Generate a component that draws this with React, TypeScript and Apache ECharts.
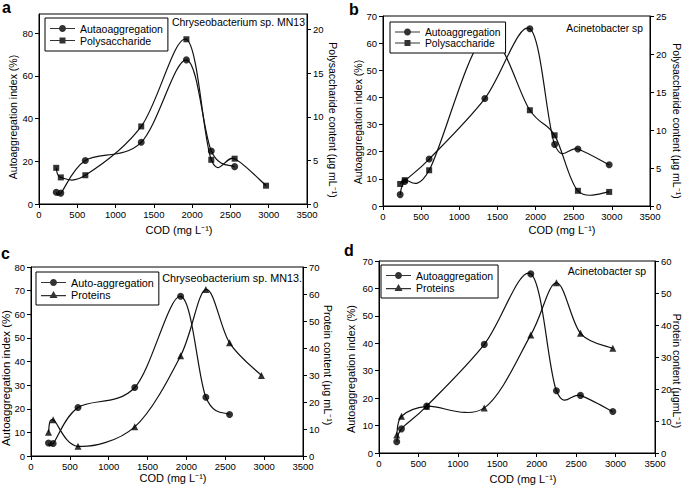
import React, { useEffect, useRef } from 'react';
import * as echarts from 'echarts';

// COD values (mg L-1) shared by all panels
const cod = [225, 285, 605, 1335, 1925, 2250, 2555, 2965];

// Panel a: Chryseobacterium sp. MN13
const aAuto = [5.5, 5.1, 20.4, 28.9, 67.5, 24.8, 17.5];
const aPoly = [4.15, 3.05, 3.3, 8.9, 18.9, 5.07, 5.2, 2.1];
// Panel b: Acinetobacter sp
const bAuto = [4.2, 9.0, 17.3, 39.6, 65.3, 22.7, 21.0, 15.2];
const bPoly = [2.9, 3.4, 4.7, 22.3, 12.6, 9.3, 2.0, 1.85];
// Panel c: Chryseobacterium sp. MN13.
const cAuto = [5.5, 5.3, 20.5, 29.0, 67.6, 24.9, 17.6];
const cProt = [8.8, 13.4, 3.6, 10.8, 37.1, 61.7, 41.9, 29.8];
// Panel d: Acinetobacter sp
const dAuto = [4.1, 8.8, 17.1, 39.6, 65.3, 22.7, 21.0, 15.1];
const dProt = [5.6, 11.5, 14.6, 14.1, 36.9, 53.2, 37.4, 32.7];

const xTicks = [0, 500, 1000, 1500, 2000, 2500, 3000, 3500];

const FONT = '"Liberation Sans", Arial, Helvetica, sans-serif';

const pairs = (ys: number[]) => ys.map((y, i) => [cod[i], y]);

const ICONS: Record<string, string> = {
  circle: 'path://M0,2.9H25V4.1H0Z M16,3.5C16,5.433,14.433,7,12.5,7C10.567,7,9,5.433,9,3.5C9,1.567,10.567,0,12.5,0C14.433,0,16,1.567,16,3.5Z',
  rect: 'path://M0,2.9H25V4.1H0Z M9.5,0.5H15.5V6.5H9.5Z',
  triangle: 'path://M0,4H25V5.2H0Z M12.5,0L16.5,7H8.5Z',
};

type Pt = { x: number; y: number };
type Panel = {
  letter: string;
  species: string;
  grid: { left: number; top: number; width: number; height: number };
  leftMax: number; leftInt: number; rightMax: number; rightInt: number;
  hideMax: boolean;
  leftName: string; rightName: string; xName: string;
  leftPos: Pt; rightPos: Pt; xPos: Pt;
  nameSize: number; leftSize: number; textSize: number;
  s1: { name: string; data: number[] };
  s2: { name: string; data: number[]; symbol: string; size: number };
  legend: { left: number; top: number };
  speciesPos: Pt;
  letterPos: Pt;
};

const panels: Panel[] = [
  {
    letter: 'a', species: 'Chryseobacterium sp. MN13',
    grid: { left: 39, top: 14, width: 268, height: 190 },
    leftMax: 89, leftInt: 20, rightMax: 21.8, rightInt: 5, hideMax: true,
    leftName: 'Autoaggregation index (%)', rightName: 'Polysaccharide content (µg mL⁻¹)', xName: 'COD (mg L⁻¹)',
    leftPos: { x: 13, y: 117 }, rightPos: { x: 333, y: 120 }, xPos: { x: 179, y: 230 },
    nameSize: 10.5, leftSize: 10.5, textSize: 10.5,
    s1: { name: 'Autaoaggregation', data: aAuto },
    s2: { name: 'Polysaccharide', data: aPoly, symbol: 'rect', size: 6 },
    legend: { left: 45, top: 18 },
    speciesPos: { x: 305, y: 22 },
    letterPos: { x: 2, y: 7 },
  },
  {
    letter: 'b', species: 'Acinetobacter sp',
    grid: { left: 383, top: 16, width: 267, height: 190 },
    leftMax: 70, leftInt: 10, rightMax: 25, rightInt: 5, hideMax: false,
    leftName: 'Autoaggregation index (%)', rightName: 'Polysaccharide content (µg mL⁻¹)', xName: 'COD (mg L⁻¹)',
    leftPos: { x: 358, y: 122 }, rightPos: { x: 677, y: 121 }, xPos: { x: 562, y: 230 },
    nameSize: 10.5, leftSize: 10.5, textSize: 10.3,
    s1: { name: 'Autoaggregation', data: bAuto },
    s2: { name: 'Polysaccharide', data: bPoly, symbol: 'rect', size: 6 },
    legend: { left: 390, top: 22 },
    speciesPos: { x: 643, y: 28 },
    letterPos: { x: 349, y: 9 },
  },
  {
    letter: 'c', species: 'Chryseobacterium sp. MN13.',
    grid: { left: 31, top: 267, width: 272, height: 189 },
    leftMax: 80, leftInt: 10, rightMax: 70, rightInt: 10, hideMax: false,
    leftName: 'Autoaggregation index (%)', rightName: 'Protein content (µg mL⁻¹)', xName: 'COD (mg L⁻¹)',
    leftPos: { x: 6, y: 378 }, rightPos: { x: 328, y: 365 }, xPos: { x: 173, y: 478 },
    nameSize: 10.8, leftSize: 11.5, textSize: 10.8,
    s1: { name: 'Auto-aggregation', data: cAuto },
    s2: { name: 'Proteins', data: cProt, symbol: 'triangle', size: 7 },
    legend: { left: 36, top: 272 },
    speciesPos: { x: 302, y: 278 },
    letterPos: { x: 1, y: 253 },
  },
  {
    letter: 'd', species: 'Acinetobacter sp',
    grid: { left: 379, top: 261, width: 276, height: 192 },
    leftMax: 70, leftInt: 10, rightMax: 60, rightInt: 10, hideMax: false,
    leftName: 'Autoaggregation index (%)', rightName: 'Protein content (µgmL⁻¹)', xName: 'COD (mg L⁻¹)',
    leftPos: { x: 351, y: 369 }, rightPos: { x: 677, y: 371 }, xPos: { x: 523, y: 479 },
    nameSize: 10.5, leftSize: 10.8, textSize: 10.5,
    s1: { name: 'Autoaggregation', data: dAuto },
    s2: { name: 'Proteins', data: dProt, symbol: 'triangle', size: 7 },
    legend: { left: 381, top: 265 },
    speciesPos: { x: 646, y: 271 },
    letterPos: { x: 344, y: 250 },
  },
];

const axisCommon = {
  axisLine: { show: true, onZero: false, lineStyle: { color: '#000', width: 1 } },
  axisTick: { show: true, length: 4, lineStyle: { color: '#000', width: 1 } },
  splitLine: { show: false },
};

// Excel-like smooth curve (Catmull-Rom -> cubic Bezier) through pixel points
function smoothPath(pts: number[][]) {
  let d = `M${pts[0][0]},${pts[0][1]}`;
  for (let i = 0; i < pts.length - 1; i++) {
    const p0 = pts[i - 1] || pts[i];
    const p1 = pts[i];
    const p2 = pts[i + 1];
    const p3 = pts[i + 2] || p2;
    const c1x = p1[0] + (p2[0] - p0[0]) / 6;
    const c1y = p1[1] + (p2[1] - p0[1]) / 6;
    const c2x = p2[0] - (p3[0] - p1[0]) / 6;
    const c2y = p2[1] - (p3[1] - p1[1]) / 6;
    d += ` C${c1x},${c1y} ${c2x},${c2y} ${p2[0]},${p2[1]}`;
  }
  return d;
}

function curveSeries(data: number[][], xi: number, yi: number) {
  return {
    type: 'custom', xAxisIndex: xi, yAxisIndex: yi, data, z: 1, zlevel: 0, silent: true,
    renderItem: (params: any, api: any) => {
      if (params.dataIndex !== 0) return null;
      const pts = data.map((p) => api.coord(p));
      return {
        type: 'path',
        shape: { pathData: smoothPath(pts) },
        style: { fill: 'none', stroke: '#111', lineWidth: 1.2 },
      };
    },
  };
}

function nameText(text: string, pos: Pt, size: number, rotation: number) {
  return {
    type: 'text', x: pos.x, y: pos.y, rotation, z: 20,
    style: { text, fontSize: size, fontFamily: FONT, fill: '#000', textAlign: 'center', textVerticalAlign: 'middle' },
  };
}

function buildOption() {
  const grid: any[] = [];
  const xAxis: any[] = [];
  const yAxis: any[] = [];
  const series: any[] = [];
  const legend: any[] = [];
  const graphic: any[] = [];
  const fmt = (v: number) => String(v);

  panels.forEach((p, i) => {
    grid.push({ ...p.grid, show: true, borderColor: '#000', borderWidth: 1, backgroundColor: 'transparent' });
    xAxis.push({
      gridIndex: i, type: 'value', min: xTicks[0], max: xTicks[xTicks.length - 1], interval: xTicks[1] - xTicks[0],
      ...axisCommon,
      axisLabel: { fontSize: 9.5, color: '#000', margin: 5, fontFamily: FONT, formatter: fmt },
    });
    yAxis.push({
      gridIndex: i, type: 'value', position: 'left', min: 0, max: p.leftMax, interval: p.leftInt,
      ...axisCommon,
      axisLabel: { fontSize: 9.5, color: '#000', margin: 6, fontFamily: FONT, showMaxLabel: !p.hideMax, formatter: fmt },
    });
    yAxis.push({
      gridIndex: i, type: 'value', position: 'right', min: 0, max: p.rightMax, interval: p.rightInt,
      ...axisCommon,
      axisLabel: { fontSize: 9.5, color: '#000', margin: 6, fontFamily: FONT, showMaxLabel: !p.hideMax, formatter: fmt },
    });
    const d1 = pairs(p.s1.data);
    const d2 = pairs(p.s2.data);
    series.push(curveSeries(d1, i, 2 * i));
    series.push(curveSeries(d2, i, 2 * i + 1));
    series.push({
      type: 'scatter', name: p.s1.name, xAxisIndex: i, yAxisIndex: 2 * i, z: 2, zlevel: 0,
      data: d1, symbol: 'circle', symbolSize: 7, itemStyle: { color: '#000' },
    });
    series.push({
      type: 'scatter', name: p.s2.name, xAxisIndex: i, yAxisIndex: 2 * i + 1, z: 2, zlevel: 0,
      data: d2, symbol: p.s2.symbol, symbolSize: p.s2.size, itemStyle: { color: '#000' },
    });
    legend.push({
      data: [
        { name: p.s1.name, icon: ICONS.circle },
        { name: p.s2.name, icon: ICONS[p.s2.symbol] },
      ],
      orient: 'vertical', left: p.legend.left, top: p.legend.top,
      itemWidth: 25, itemHeight: 7, itemGap: 1, padding: [5, 5, 5, 5],
      borderColor: '#000', borderWidth: 1, backgroundColor: '#ffffff', borderRadius: 0,
      selectedMode: false, z: 50, zlevel: 1,
      itemStyle: { color: '#000' },
      textStyle: { fontSize: p.textSize, color: '#000', fontFamily: FONT },
    });
    graphic.push({
      type: 'text', x: p.speciesPos.x, y: p.speciesPos.y, z: 20, zlevel: 1,
      style: { text: p.species, fontSize: p.textSize, fontFamily: FONT, fill: '#000', textAlign: 'right', textVerticalAlign: 'middle' },
    });
    graphic.push({
      type: 'text', x: p.letterPos.x, y: p.letterPos.y, z: 20,
      style: { text: p.letter, fontSize: 16, fontWeight: 'bold', fontFamily: FONT, fill: '#000', textAlign: 'left', textVerticalAlign: 'middle' },
    });
    graphic.push(nameText(p.leftName, p.leftPos, p.leftSize, Math.PI / 2));
    graphic.push(nameText(p.rightName, p.rightPos, p.nameSize, -Math.PI / 2));
    graphic.push(nameText(p.xName, p.xPos, 11, 0));
  });

  return { animation: false, backgroundColor: '#fff', grid, xAxis, yAxis, series, legend, graphic };
}

export default function App() {
  const ref = useRef<HTMLDivElement>(null);
  useEffect(() => {
    if (!ref.current) return;
    const chart = echarts.init(ref.current, undefined, { renderer: 'svg' });
    chart.setOption(buildOption() as any);
    return () => chart.dispose();
  }, []);
  return <div ref={ref} style={{ position: 'absolute', left: 0, top: 0, width: 685, height: 486 }} />;
}
